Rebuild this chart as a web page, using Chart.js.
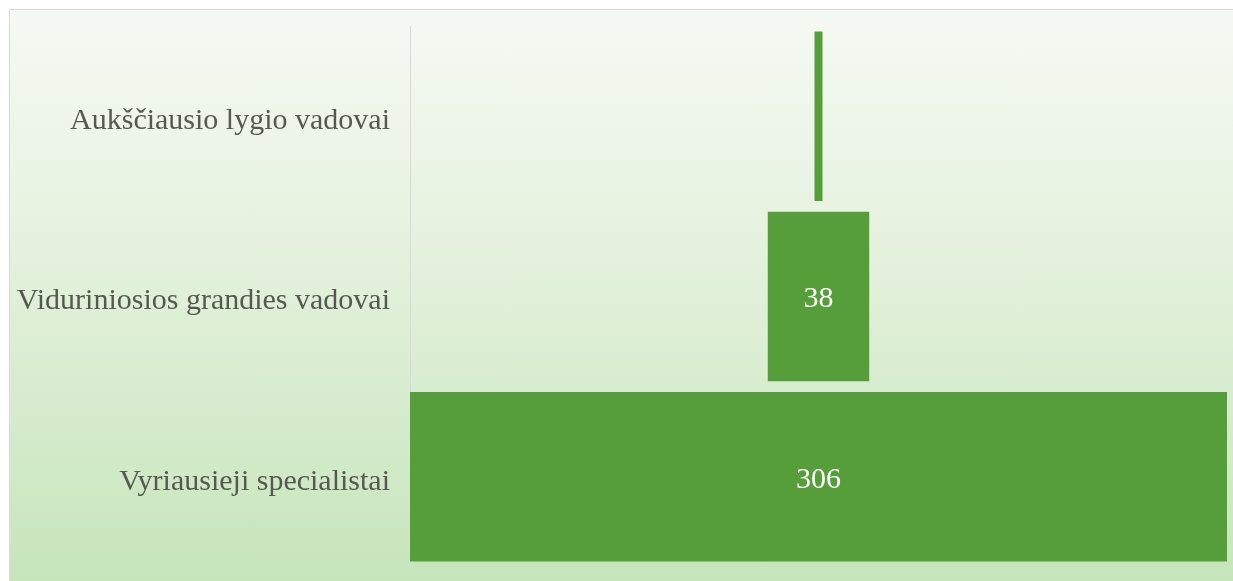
<!DOCTYPE html>
<html>
<head>
<meta charset="utf-8">
<script src="https://cdn.jsdelivr.net/npm/chart.js@4/dist/chart.umd.min.js"></script>
<style>
  html, body { margin: 0; padding: 0; background: #ffffff; }
  #wrap {
    position: absolute; left: 9px; top: 9px;
    width: 1223px; height: 571px;
    border-top: 1px solid #d9d9d9; border-left: 1px solid #d9d9d9;
    background: linear-gradient(to bottom, #f5f9f3 0%, #e6f2df 40%, #c6e5bb 100%);
  }
  canvas { display: block; }
</style>
</head>
<body>
<div id="wrap"><canvas id="funnel" width="1223" height="571"></canvas></div>
<script>
  // Funnel data (top to bottom)
  const categories = ["Aukščiausio lygio vadovai", "Viduriniosios grandies vadovai", "Vyriausieji specialistai"];
  const values = [3, 38, 306];

  const maxValue = Math.max(...values);
  // invisible spacer so each bar sits centred
  const spacer = values.map(v => (maxValue - v) / 2);

  const serif = "'Liberation Serif', 'Times New Roman', serif";

  // draw the numbers inside the bars
  const valueLabels = {
    id: "valueLabels",
    afterDatasetsDraw(chart) {
      const ctx = chart.ctx;
      const meta = chart.getDatasetMeta(1);
      ctx.save();
      ctx.fillStyle = "#ffffff";
      ctx.font = "30px " + serif;
      ctx.textAlign = "center";
      ctx.textBaseline = "middle";
      meta.data.forEach((bar, i) => {
        const w = Math.abs(bar.x - bar.base);
        if (w < 30) return;
        ctx.fillText(String(values[i]), (bar.x + bar.base) / 2, bar.y + 3);
      });
      ctx.restore();
    }
  };

  new Chart(document.getElementById("funnel"), {
    type: "bar",
    data: {
      labels: categories,
      datasets: [
        {
          label: "spacer",
          data: spacer,
          backgroundColor: "rgba(0,0,0,0)",
          barPercentage: 0.94,
          categoryPercentage: 1
        },
        {
          label: "Darbuotojai",
          data: values,
          backgroundColor: "#559e3a",
          barPercentage: 0.94,
          categoryPercentage: 1
        }
      ]
    },
    options: {
      indexAxis: "y",
      responsive: false,
      animation: false,
      layout: { padding: { top: 16, right: 6, bottom: 14, left: 0 } },
      plugins: {
        legend: { display: false },
        tooltip: { enabled: false }
      },
      scales: {
        x: {
          stacked: true,
          display: false,
          min: 0,
          max: maxValue
        },
        y: {
          stacked: true,
          afterFit: (scale) => {
            scale.width = 400;
            scale.paddingTop = 0;
            scale.paddingBottom = 0;
          },
          grid: { display: true, drawOnChartArea: false, drawTicks: false },
          border: { display: true, color: "#d9d9d9", width: 1 },
          ticks: {
            padding: 20,
            labelOffset: 5,
            color: "#56594f",
            font: { family: serif, size: 30 }
          }
        }
      }
    },
    plugins: [valueLabels]
  });
</script>
</body>
</html>
